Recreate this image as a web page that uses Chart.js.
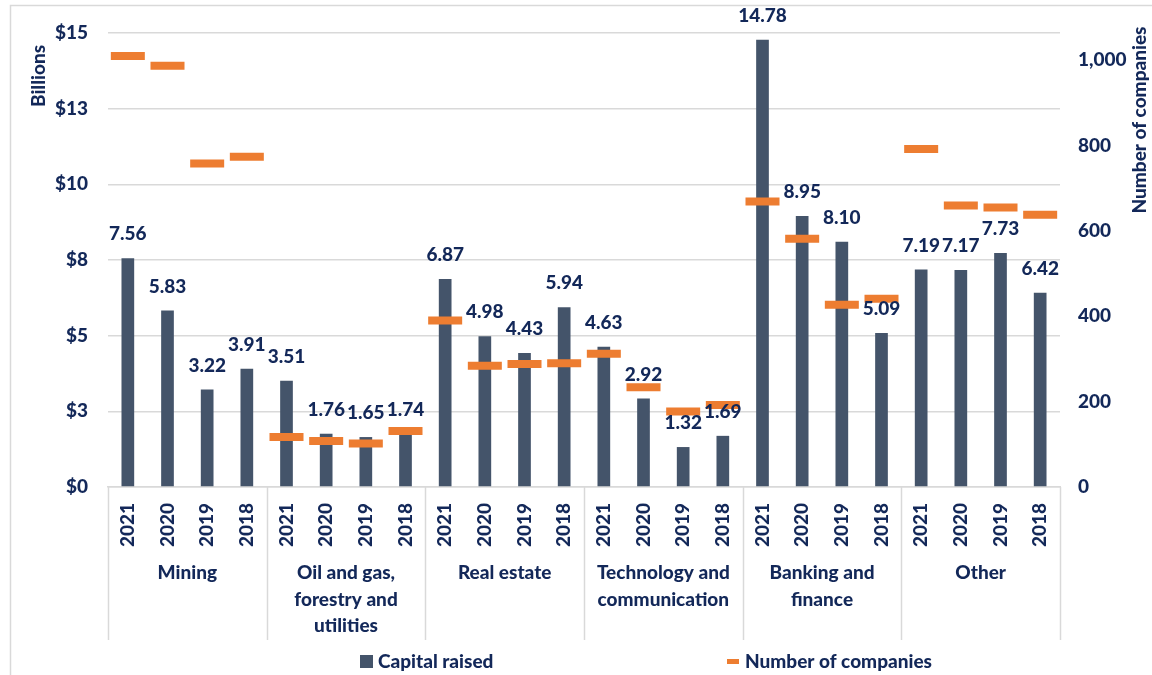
<!DOCTYPE html>
<html>
<head>
<meta charset="utf-8">
<script src="https://cdn.jsdelivr.net/npm/chart.js@4.4.1/dist/chart.umd.min.js"></script>
<style>
  html, body { margin: 0; padding: 0; background: #ffffff; }
  #wrap { width: 1152px; height: 675px; }
</style>
</head>
<body>
<div id="wrap"><canvas id="c" width="1152" height="675"></canvas></div>
<script>
// ---------- DATA ----------
const years = ['2021','2020','2019','2018'];
const groups = [
  ['Mining'],
  ['Oil and gas,', 'forestry and', 'utilities'],
  ['Real estate'],
  ['Technology and', 'communication'],
  ['Banking and', 'finance'],
  ['Other']
];
const categories = groups.flatMap(() => years);
const capitalRaised = [
  7.56, 5.83, 3.22, 3.91,
  3.51, 1.76, 1.65, 1.74,
  6.87, 4.98, 4.43, 5.94,
  4.63, 2.92, 1.32, 1.69,
  14.78, 8.95, 8.10, 5.09,
  7.19, 7.17, 7.73, 6.42
];
const numberOfCompanies = [
  1010, 987, 758, 774,
  117, 108, 102, 131,
  390, 284, 288, 290,
  312, 234, 177, 192,
  669, 582, 427, 441,
  792, 660, 655, 638
];
const leftTickLabels = ['$0','$3','$5','$8','$10','$13','$15'];
const rightTickValues = [0, 200, 400, 600, 800, 1000];
const seriesNames = ['Capital raised', 'Number of companies'];
const leftTitle = 'Billions';
const rightTitle = 'Number of companies';

// ---------- STYLE ----------
const TXT = '#132859';
const BAR = '#44546A';
const ORANGE = '#ED7D31';
const GRID = '#D9D9D9';
const FONT = 'Lato, "Open Sans", sans-serif';
const FW = '900';
const FS = 19;
const FONTSTR = FW + ' ' + FS + 'px ' + FONT;

const extras = {
  id: 'extras',
  beforeDraw(chart) {
    const ctx = chart.ctx;
    ctx.save();
    ctx.strokeStyle = GRID;
    ctx.lineWidth = 1.5;
    ctx.strokeRect(10.5, 5.5, 1200, 700);
    ctx.restore();
  },
  afterDatasetsDraw(chart) {
    const ctx = chart.ctx;
    const x = chart.scales.x;
    const area = chart.chartArea;
    ctx.save();
    // data labels
    const meta = chart.getDatasetMeta(0);
    ctx.font = FONTSTR;
    ctx.fillStyle = TXT;
    ctx.textAlign = 'center';
    ctx.textBaseline = 'middle';
    meta.data.forEach((el, i) => {
      ctx.fillText(capitalRaised[i].toFixed(2), el.x, el.y - 24);
    });

    // group separators
    const step = (x.getPixelForValue(1) - x.getPixelForValue(0));
    ctx.strokeStyle = GRID;
    ctx.lineWidth = 1.5;
    for (let g = 0; g <= groups.length; g++) {
      const idx = g * 4;
      const px = Math.round(x.getPixelForValue(0) - step / 2 + idx * step) + 0.5;
      ctx.beginPath();
      ctx.moveTo(px, area.bottom);
      ctx.lineTo(px, 640);
      ctx.stroke();
    }
    // group labels
    ctx.fillStyle = TXT;
    groups.forEach((lines, g) => {
      const cx = (x.getPixelForValue(g * 4) + x.getPixelForValue(g * 4 + 3)) / 2;
      lines.forEach((t, k) => ctx.fillText(t, cx, 573 + k * 26.5));
    });

    // axis titles
    ctx.save();
    ctx.translate(39, 76);
    ctx.rotate(-Math.PI / 2);
    ctx.fillText(leftTitle, 0, 0);
    ctx.restore();
    ctx.save();
    ctx.translate(1140, 120);
    ctx.rotate(-Math.PI / 2);
    ctx.fillText(rightTitle, 0, 0);
    ctx.restore();

    // legend
    ctx.textAlign = 'left';
    ctx.fillStyle = BAR;
    ctx.fillRect(360, 655, 13, 13);
    ctx.fillStyle = TXT;
    ctx.fillText(seriesNames[0], 378, 662);
    ctx.fillStyle = ORANGE;
    ctx.fillRect(727, 659, 12, 5);
    ctx.fillStyle = TXT;
    ctx.fillText(seriesNames[1], 745, 662);
    ctx.restore();
  }
};

const tickFont = { family: FONT, size: FS, weight: FW };

new Chart(document.getElementById('c'), {
  data: {
    labels: categories,
    datasets: [
      {
        type: 'bar',
        label: seriesNames[0],
        data: capitalRaised,
        backgroundColor: BAR,
        borderWidth: 0,
        barPercentage: 0.32,
        categoryPercentage: 1.0,
        yAxisID: 'y',
        order: 2
      },
      {
        type: 'line',
        label: seriesNames[1],
        data: numberOfCompanies,
        showLine: false,
        pointStyle: 'line',
        pointRadius: 17,
        pointHoverRadius: 17,
        pointBorderWidth: 8,
        pointHoverBorderWidth: 8,
        pointBorderColor: ORANGE,
        pointBackgroundColor: ORANGE,
        borderColor: ORANGE,
        yAxisID: 'y1',
        order: 1
      }
    ]
  },
  options: {
    responsive: false,
    animation: false,
    events: [],
    layout: { padding: { top: 33, left: 0, right: 0, bottom: 0 } },
    plugins: {
      legend: { display: false },
      tooltip: { enabled: false }
    },
    scales: {
      x: {
        type: 'category',
        offset: true,
        grid: { display: false },
        border: { display: true, color: GRID, width: 1.5 },
        ticks: {
          autoSkip: false,
          minRotation: 90,
          maxRotation: 90,
          padding: 8,
          color: TXT,
          font: tickFont
        },
        afterFit(scale) { scale.height = 188; }
      },
      y: {
        position: 'left',
        min: 0,
        max: 15,
        ticks: {
          stepSize: 2.5,
          padding: 20,
          color: TXT,
          font: tickFont,
          callback: (v, i) => leftTickLabels[i]
        },
        grid: { color: GRID, lineWidth: 1.5, drawTicks: false },
        border: { display: false },
        afterFit(scale) { scale.width = 108; }
      },
      y1: {
        position: 'right',
        min: 0,
        max: 1064,
        afterBuildTicks(scale) { scale.ticks = rightTickValues.map(v => ({ value: v })); },
        ticks: {
          padding: 18,
          color: TXT,
          font: tickFont,
          callback: (v) => v.toLocaleString('en-US')
        },
        grid: { display: false, drawTicks: false },
        border: { display: false },
        afterFit(scale) { scale.width = 92; }
      }
    }
  },
  plugins: [extras]
});
</script>
</body>
</html>
